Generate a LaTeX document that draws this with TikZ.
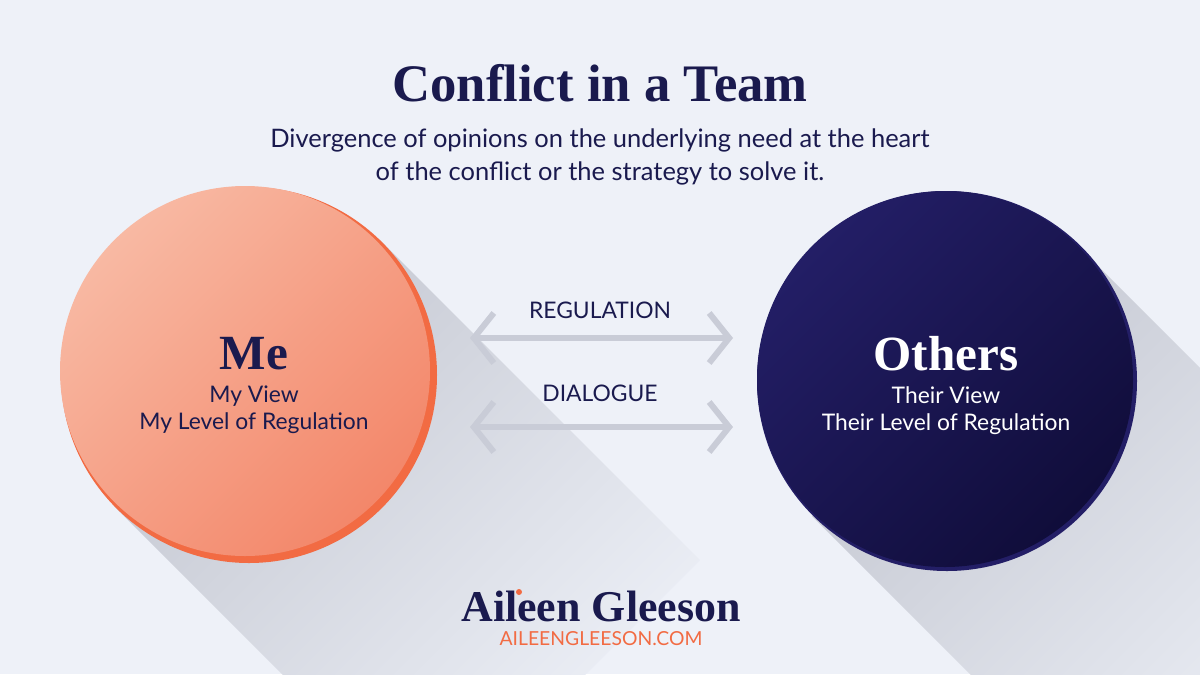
\documentclass[tikz,border=0pt]{standalone}
\usepackage{fontspec}
\setmainfont{Liberation Serif}
\newfontfamily\labelfont{Lato}
\usetikzlibrary{arrows.meta}
\definecolor{bgcol}{HTML}{EEF1F8}
\definecolor{shadowcol}{HTML}{C4C7D1}
\definecolor{navy}{HTML}{1A1A4E}
\definecolor{peachlight}{HTML}{F8B9A3}
\definecolor{peachdark}{HTML}{F3876A}
\definecolor{peachrim}{HTML}{F26B43}
\definecolor{navylight}{HTML}{231E66}
\definecolor{navydark}{HTML}{100D3A}
\definecolor{arrowgray}{HTML}{C9CCD7}
\tikzset{
  title/.style={text=navy, font=\bfseries\fontsize{30}{36}\selectfont},
  small/.style={text=navy, font=\labelfont\fontsize{13}{15.5}\selectfont, align=center},
  arrowlabel/.style={text=navy, font=\labelfont\fontsize{13}{16}\selectfont},
  twoway/.style={arrowgray, line width=1.2mm, {Straight Barb[length=4mm,width=10mm]}-{Straight Barb[length=4mm,width=10mm]}},
  shadow/.style={left color=shadowcol, right color=bgcol, shading angle=45},
}
\begin{document}
\begin{tikzpicture}[x=0.02cm,y=-0.02cm]
	\fill[bgcol] (0,0) rectangle (1200,674);
	\useasboundingbox (0,0) rectangle (1200,674);

	% long shadows
	\begin{scope}
		\clip (380,240) -- (700,560) -- (434,826) -- (114,506) -- cycle;
		\shade[shadow] (114,240) rectangle (700,826);
	\end{scope}
	\begin{scope}
		\clip (1080,248) -- (1400,568) -- (1132,836) -- (812,516) -- cycle;
		\shade[shadow] (812,248) rectangle (1400,836);
	\end{scope}

	% circles
	\fill[peachrim] (249,375) circle (188);
	\shade[left color=peachlight, right color=peachdark, shading angle=45] (245,371) circle (185);
	\fill[navylight] (947,381) circle (190);
	\shade[left color=navylight, right color=navydark, shading angle=45] (945,379) circle (188);

	\node[title] (head) at (600,83) {Conflict in a Team};
	\node[small, font=\labelfont\fontsize{14.5}{19}\selectfont] (sub) at (600,157) {Divergence of opinions on the underlying need at the heart\\of the conflict or the strategy to solve it.};

	\node[title, font=\bfseries\fontsize{28}{34}\selectfont] (me) at (254,354) {Me};
	\node[small] (meview) at (254,410) {My View\\My Level of Regulation};
	\node[title, white, font=\bfseries\fontsize{28}{34}\selectfont] (others) at (946,354) {Others};
	\node[small, white] (othersview) at (946,411) {Their View\\Their Level of Regulation};

	% arrows
	\coordinate (r1) at (470,338);
	\coordinate (r2) at (733,338);
	\coordinate (d1) at (470,427);
	\coordinate (d2) at (733,427);
	\draw[twoway] (r1) -- (r2);
	\draw[twoway] (d1) -- (d2);
	\node[arrowlabel] (reg) at (600,310) {REGULATION};
	\node[arrowlabel] (dia) at (600,393) {DIALOGUE};

	% logo
	\node[title, font=\bfseries\fontsize{25}{30}\selectfont] (logo) at (601,606) {Aileen Gleeson};
	\fill[peachrim] (519,592) circle (3);
	\node[text=peachrim, font=\labelfont\fontsize{11}{13}\selectfont] (url) at (601,639) {AILEENGLEESON.COM};
\end{tikzpicture}
\end{document}
